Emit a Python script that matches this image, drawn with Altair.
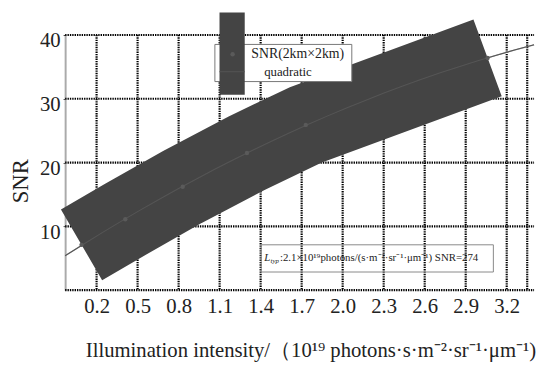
import altair as alt
import pandas as pd

# Data
illum = [0.09, 0.41, 0.83, 1.30, 1.73, 3.06]
snr = [7.1, 11.1, 16.2, 21.5, 25.9, 36.4]
x_ticks = [0.2, 0.5, 0.8, 1.1, 1.4, 1.7, 2.0, 2.3, 2.6, 2.9, 3.2]
x_grid = [0.2, 0.5, 0.8, 1.1, 1.4, 1.7, 2.0, 2.3, 2.6, 2.9, 3.2, 3.35]
y_ticks = [10, 20, 30, 40]
y_grid = [0, 10, 20, 30, 40]
series_label = "SNR(2km×2km)"
fit_label = "quadratic"
note_main = ":2.1×10¹⁹photons/(s·m⁻²·sr⁻¹·μm⁻¹) SNR=274"

df = pd.DataFrame({"x": illum, "snr": snr})
gx = pd.DataFrame({"x": x_grid})
gy = pd.DataFrame({"snr": y_grid})
dummy = pd.DataFrame({"a": [0]})

FONT = "Liberation Serif, Times New Roman, serif"
W, H = 476, 259

xscale = alt.Scale(domain=[-0.03, 3.4], nice=False, zero=False)
yscale = alt.Scale(domain=[0, 40], nice=False)

xaxis = alt.Axis(
    values=x_ticks, format=".1f",
    grid=False, domain=False, ticks=False,
    labelFont=FONT, labelFontSize=21, labelColor="#222", labelPadding=6,
    title="Illumination intensity/（10¹⁹ photons·s·m⁻²·sr⁻¹·μm⁻¹)",
    titleFont=FONT, titleFontSize=21, titleFontWeight="normal", titleColor="#222",
    titleX=249, titleY=61, titleAlign="center", titleBaseline="middle",
)
yaxis = alt.Axis(
    values=y_ticks,
    grid=False,
    domain=True, domainColor="#aaa", domainWidth=2,
    ticks=True, tickSize=2, tickColor="#222",
    labelFont=FONT, labelFontSize=21, labelColor="#222", labelPadding=3,
    labelOffset=6,
    title="SNR", titleFont=FONT, titleFontSize=23, titleFontWeight="normal",
    titleColor="#222", titleX=-45, titleY=148, titleAlign="center",
    titleBaseline="middle", titleAngle=270,
)

base = alt.Chart(df)
X = alt.X("x:Q", scale=xscale, axis=xaxis)
Y = alt.Y("snr:Q", scale=yscale, axis=yaxis)

grid_v = alt.Chart(gx).mark_rule(color="#000", strokeWidth=2.2, strokeDash=[1.4, 1]).encode(
    x=alt.X("x:Q", scale=xscale, axis=xaxis), y=alt.value(0), y2=alt.value(H))
grid_h = alt.Chart(gy).mark_rule(color="#000", strokeWidth=2.2, strokeDash=[1.4, 1]).encode(
    y=alt.Y("snr:Q", scale=yscale, axis=yaxis), x=alt.value(0), x2=alt.value(W))

fit_under = base.transform_regression(
    "x", "snr", method="poly", order=2, extent=[-0.03, 3.4]
).mark_line(color="#aaa", strokeWidth=1.3).encode(x="x:Q", y="snr:Q")

band = base.mark_line(
    color="#444", strokeWidth=83, strokeCap="butt", strokeJoin="miter"
).encode(x=X, y=Y)

fit_over = base.transform_regression(
    "x", "snr", method="poly", order=2, extent=[-0.03, 3.4]
).mark_line(color="#555", strokeWidth=1.1).encode(x="x:Q", y="snr:Q")

pts = base.mark_circle(size=20, color="#5a5a5a", opacity=1).encode(x="x:Q", y="snr:Q")

d = alt.Chart(dummy)
leg_box = d.mark_rect(fill="white", stroke="#777", strokeWidth=1).encode(
    x=alt.value(152), x2=alt.value(291), y=alt.value(9.6), y2=alt.value(47.3))
leg_sym = d.mark_rect(fill="#444").encode(
    x=alt.value(156.7), x2=alt.value(182.3), y=alt.value(-22.7), y2=alt.value(60.6))
leg_line = d.mark_rule(color="#555", strokeWidth=1).encode(
    x=alt.value(156.7), x2=alt.value(182.3), y=alt.value(37.3))
leg_pt = d.mark_circle(size=20, color="#5a5a5a", opacity=1).encode(
    x=alt.value(170), y=alt.value(19.6))
leg_t1 = d.mark_text(align="left", baseline="middle", font=FONT, fontSize=14,
                     color="#222", text=series_label).encode(
    x=alt.value(189), y=alt.value(19.6))
leg_t2 = d.mark_text(align="left", baseline="middle", font=FONT, fontSize=13,
                     color="#222", text=fit_label).encode(
    x=alt.value(202), y=alt.value(37.3))

note_box = d.mark_rect(fill="transparent", stroke="#888", strokeWidth=1).encode(
    x=alt.value(199), x2=alt.value(434.7), y=alt.value(213), y2=alt.value(240.6))
note_L = d.mark_text(align="left", baseline="middle", font=FONT, fontSize=11,
                     fontStyle="italic", color="#222", text="L").encode(
    x=alt.value(202), y=alt.value(226.6))
note_sub = d.mark_text(align="left", baseline="middle", font=FONT, fontSize=7,
                       fontStyle="italic", color="#222", text="typ").encode(
    x=alt.value(208.5), y=alt.value(229.5))
note_t = d.mark_text(align="left", baseline="middle", font=FONT, fontSize=11,
                     color="#222", text=note_main).encode(
    x=alt.value(218), y=alt.value(226.6))

chart = alt.layer(
    grid_v, grid_h, fit_under, band, fit_over, pts,
    leg_box, leg_sym, leg_line, leg_pt, leg_t1, leg_t2,
    note_box, note_L, note_sub, note_t,
).properties(
    width=W, height=H,
    autosize=alt.AutoSizeParams(type="none"),
    padding={"left": 58, "top": 24.7, "right": 4, "bottom": 73},
    background="white",
).configure_view(stroke=None)

chart.save("out.html", embed_options={"renderer": "svg", "actions": False})
